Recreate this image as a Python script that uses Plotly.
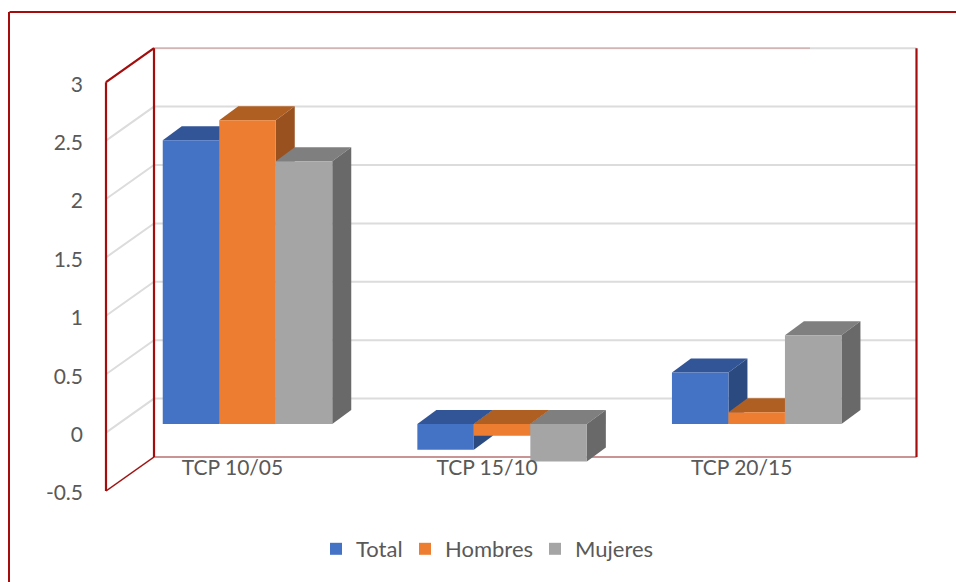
import plotly.graph_objects as go

categories = ["TCP 10/05", "TCP 15/10", "TCP 20/15"]
total = [2.43, -0.22, 0.44]
hombres = [2.60, -0.10, 0.10]
mujeres = [2.25, -0.32, 0.76]
series_names = ["Total", "Hombres", "Mujeres"]
tick_values = [-0.5, 0, 0.5, 1, 1.5, 2, 2.5, 3]
tick_labels = ["-0.5", "0", "0.5", "1", "1.5", "2", "2.5", "3"]

front_colors = ["#4472C4", "#ED7D31", "#A5A5A5"]
top_colors = ["#325597", "#B05F23", "#7F7F7F"]
side_colors = ["#2A4A80", "#9A5120", "#696969"]
RED = "#A50C0C"
GRID = "#DCDCDC"
TEXT = "#595959"
FONT = "Lato"

W, H = 956, 582
PERIOD = 254.6      # px per category
CENTER0 = 247.5     # px of first category centre
SCALE = 116.8       # px per value unit
ZERO = 424.0        # px of value 0 on bar fronts
BAR_W = 56.5 / PERIOD
DEPTH_X, DEPTH_Y = 19 / PERIOD, 14 / SCALE


def xd(px):
    return (px - CENTER0) / PERIOD


def yd(px):
    return (ZERO - px) / SCALE


x_range = [xd(0), xd(W)]
y_range = [yd(H), yd(0)]
positions = list(range(len(categories)))

fig = go.Figure()


def wall(xs, ys, color, width, opacity=1.0):
    fig.add_trace(go.Scatter(x=xs, y=ys, mode="lines", showlegend=False, hoverinfo="skip",
                             opacity=opacity, line=dict(color=color, width=width)))


# Walls: front-left edge at px 106, back wall from px 154 to px 916
front_off, back_off = yd(432.6), yd(398.6)
LX, BX, RX = xd(106), xd(154), xd(916.5)
for v in tick_values:
    wall([LX, BX, RX], [v + front_off, v + back_off, v + back_off], GRID, 2)
wall([BX, xd(810)], [3 + back_off] * 2, "#B03030", 1.2, 0.3)
wall([BX, RX], [-0.5 + back_off] * 2, "#B03030", 1.5, 0.55)
wall([LX, LX], [-0.5 + front_off, 3 + front_off], RED, 2.2)
wall([BX, BX], [-0.5 + back_off, 3 + back_off], RED, 2.2)
wall([RX, RX], [-0.5 + back_off, 3 + back_off], RED, 2.2)
wall([LX, BX], [3 + front_off, 3 + back_off], RED, 2.2)
wall([LX, BX], [-0.5 + front_off, -0.5 + back_off], RED, 1.4)

# Depth faces, painted left to right
all_series = [total, hombres, mujeres]
for pos in positions:
    for s, vals in enumerate(all_series):
        v = vals[pos]
        x0 = pos + (s - 1.5) * BAR_W
        x1 = x0 + BAR_W
        hi, lo = max(v, 0), min(v, 0)
        fig.add_trace(go.Scatter(
            x=[x0, x1, x1 + DEPTH_X, x0 + DEPTH_X, x0],
            y=[hi, hi, hi + DEPTH_Y, hi + DEPTH_Y, hi],
            fill="toself", fillcolor=top_colors[s], mode="lines", line=dict(width=0),
            showlegend=False, hoverinfo="skip"))
        fig.add_trace(go.Scatter(
            x=[x1, x1 + DEPTH_X, x1 + DEPTH_X, x1, x1],
            y=[hi, hi + DEPTH_Y, lo + DEPTH_Y, lo, hi],
            fill="toself", fillcolor=side_colors[s], mode="lines", line=dict(width=0),
            showlegend=False, hoverinfo="skip"))

# Bar fronts on an overlay subplot so they sit above every depth face
legend_ids = ["legend", "legend2", "legend3"]
for s, vals in enumerate(all_series):
    fig.add_trace(go.Bar(x=positions, y=vals, name=series_names[s], xaxis="x2", yaxis="y2",
                         marker=dict(color=front_colors[s], line=dict(width=0)),
                         legend=legend_ids[s]))

# Carrier of the shifted label axes
fig.add_trace(go.Scatter(x=positions, y=[0] * len(positions), xaxis="x3", yaxis="y3",
                         mode="markers", marker=dict(opacity=0), showlegend=False, hoverinfo="skip"))

hidden = dict(visible=False, showgrid=False, zeroline=False, fixedrange=True)
label_font = dict(family=FONT, size=21, color=TEXT)
cat_shift = (232.5 - CENTER0) / PERIOD
axis_shift = (434.6 - ZERO) / SCALE


def leg(px):
    return dict(x=px / W, y=1 - 549 / H, xanchor="left", yanchor="middle", orientation="h",
                font=dict(family=FONT, size=22, color=TEXT), bgcolor="rgba(0,0,0,0)",
                borderwidth=0, tracegroupgap=0)


fig.update_layout(
    width=W, height=H, margin=dict(l=0, r=0, t=0, b=0),
    paper_bgcolor="white", plot_bgcolor="white",
    barmode="group", bargap=1 - 3 * BAR_W, bargroupgap=0, showlegend=True,
    xaxis=dict(range=x_range, **hidden),
    yaxis=dict(range=y_range, **hidden),
    xaxis2=dict(range=x_range, overlaying="x", **hidden),
    yaxis2=dict(range=y_range, overlaying="y", **hidden),
    xaxis3=dict(range=[x_range[0] - cat_shift, x_range[1] - cat_shift], overlaying="x",
                anchor="free", position=1 - 453 / H, side="bottom",
                tickmode="array", tickvals=positions, ticktext=categories,
                showgrid=False, zeroline=False, showline=False, ticks="", tickfont=label_font,
                fixedrange=True),
    yaxis3=dict(range=[y_range[0] + axis_shift, y_range[1] + axis_shift], overlaying="y",
                anchor="free", position=83 / W, side="left",
                tickmode="array", tickvals=tick_values, ticktext=tick_labels,
                showgrid=False, zeroline=False, showline=False, ticks="", tickfont=label_font,
                fixedrange=True),
    legend=leg(316), legend2=leg(405), legend3=leg(535),
    shapes=[
        dict(type="line", xref="paper", yref="paper", x0=9.5 / W, x1=1, y0=1 - 12 / H, y1=1 - 12 / H,
             line=dict(color=RED, width=2)),
        dict(type="line", xref="paper", yref="paper", x0=9 / W, x1=9 / W, y0=0, y1=1 - 12 / H,
             line=dict(color=RED, width=2)),
    ],
)

fig.write_html("out.html", config=dict(displayModeBar=False),
               post_script="document.body.style.margin='0';document.documentElement.style.overflow='hidden';")
